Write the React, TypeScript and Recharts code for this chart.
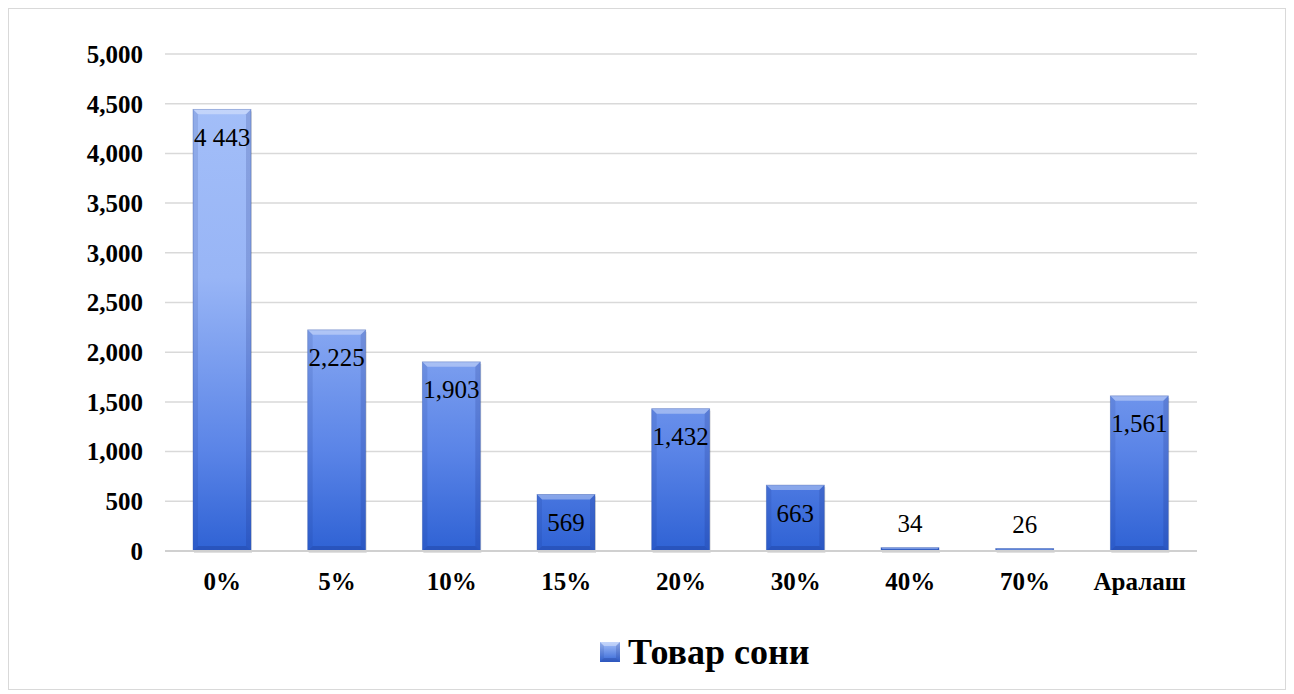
import React from "react";
import { BarChart, Bar, XAxis, YAxis, CartesianGrid, LabelList, Legend } from "recharts";

const categories = ["0%", "5%", "10%", "15%", "20%", "30%", "40%", "70%", "Аралаш"];
const values = [4443, 2225, 1903, 569, 1432, 663, 34, 26, 1561];
const valueLabels = ["4 443", "2,225", "1,903", "569", "1,432", "663", "34", "26", "1,561"];
const yTicks = [0, 500, 1000, 1500, 2000, 2500, 3000, 3500, 4000, 4500, 5000];
const seriesName = "Товар сони";

const data = categories.map((c, i) => ({ name: c, value: values[i] }));

const FONT = "Liberation Serif, Times New Roman, serif";
const CHART_W = 1276;
const CHART_H = 680;
const M_TOP = 45;
const X_H = 138;

const BevelBar = (props: any) => {
  const { x, y, width, height } = props;
  if (height <= 0 || width <= 0) return null;
  const b = Math.min(5, height / 2);
  return (
    <g>
      <rect x={x + 1} y={y + 2} width={width} height={height} fill="rgba(0,0,0,0.12)" />
      <rect x={x} y={y} width={width} height={height} fill="url(#barGrad)" />
      <polygon
        points={`${x},${y} ${x + width},${y} ${x + width - b},${y + b} ${x + b},${y + b}`}
        fill="rgba(255,255,255,0.35)"
      />
      <polygon
        points={`${x},${y} ${x + b},${y + b} ${x + b},${y + height - b} ${x},${y + height}`}
        fill="rgba(20,40,120,0.12)"
      />
      <polygon
        points={`${x + width},${y} ${x + width - b},${y + b} ${x + width - b},${y + height - b} ${x + width},${y + height}`}
        fill="rgba(20,40,120,0.18)"
      />
      <polygon
        points={`${x},${y + height} ${x + b},${y + height - b} ${x + width - b},${y + height - b} ${x + width},${y + height}`}
        fill="rgba(20,40,120,0.25)"
      />
      <rect x={x} y={y} width={width} height={height} fill="none" stroke="rgba(60,90,170,0.45)" strokeWidth={0.8} />
    </g>
  );
};

const renderValueLabel = (props: any) => {
  const { x, y, width, height, index } = props;
  const inside = height > 40;
  const cy = inside ? y + 28 : y - 24;
  return (
    <text
      x={x + width / 2}
      y={cy}
      textAnchor="middle"
      dominantBaseline="central"
      style={{ fontFamily: FONT }}
      fontSize={25}
      fill="#000"
    >
      {valueLabels[index]}
    </text>
  );
};

const renderLegend = () => (
  <div style={{ display: "flex", alignItems: "center", fontFamily: FONT }}>
    <svg width={20} height={20} style={{ marginRight: 8 }}>
      <defs>
        <linearGradient id="legGrad" x1="0" y1="0" x2="0" y2="1">
          <stop offset="0" stopColor="#a6c1f9" />
          <stop offset="1" stopColor="#3567d6" />
        </linearGradient>
      </defs>
      <rect x={0} y={0} width={20} height={20} fill="url(#legGrad)" />
      <polygon points="0,0 20,0 16,4 4,4" fill="rgba(255,255,255,0.35)" />
      <polygon points="0,20 4,16 16,16 20,20" fill="rgba(20,40,120,0.25)" />
      <polygon points="20,0 16,4 16,16 20,20" fill="rgba(20,40,120,0.18)" />
      <polygon points="0,0 4,4 4,16 0,20" fill="rgba(20,40,120,0.12)" />
    </svg>
    <span style={{ fontSize: 36, fontWeight: "bold", color: "#000", lineHeight: "44px" }}>{seriesName}</span>
  </div>
);

const tickStyle = { fontFamily: FONT, fontSize: 25, fontWeight: "bold", fill: "#000" } as any;

export default function App() {
  return (
    <div
      style={{
        width: CHART_W,
        height: CHART_H,
        border: "1px solid #d9d9d9",
        background: "#fff",
        position: "relative",
        fontFamily: FONT,
      }}
    >
      <BarChart
        width={CHART_W}
        height={CHART_H}
        data={data}
        margin={{ top: M_TOP, right: 88, bottom: 0, left: 0 }}
        style={{ fontFamily: FONT }}
      >
        <defs>
          <linearGradient
            id="barGrad"
            gradientUnits="userSpaceOnUse"
            x1="0"
            y1={M_TOP}
            x2="0"
            y2={CHART_H - X_H}
          >
            <stop offset="0" stopColor="#a6c1f9" />
            <stop offset="0.45" stopColor="#98b5f6" />
            <stop offset="0.8" stopColor="#5a84e7" />
            <stop offset="1" stopColor="#2f62d4" />
          </linearGradient>
        </defs>
        <CartesianGrid vertical={false} stroke="#d9d9d9" strokeWidth={1.5} />
        <XAxis
          dataKey="name"
          height={X_H}
          axisLine={{ stroke: "#d0d0d0", strokeWidth: 2 }}
          tickLine={false}
          tickMargin={15}
          interval={0}
          tick={tickStyle}
        />
        <YAxis
          width={156}
          domain={[0, 5000]}
          ticks={yTicks}
          axisLine={false}
          tickLine={false}
          tickMargin={16}
          tickFormatter={(v: number) => v.toLocaleString("en-US")}
          tick={tickStyle}
        />
        <Legend
          verticalAlign="middle"
          layout="horizontal"
          content={renderLegend}
          wrapperStyle={{ top: 621, left: 591, width: 400 }}
        />
        <Bar
          dataKey="value"
          name={seriesName}
          barSize={58}
          shape={BevelBar}
          isAnimationActive={false}
        >
          <LabelList dataKey="value" content={renderValueLabel} />
        </Bar>
      </BarChart>
    </div>
  );
}
